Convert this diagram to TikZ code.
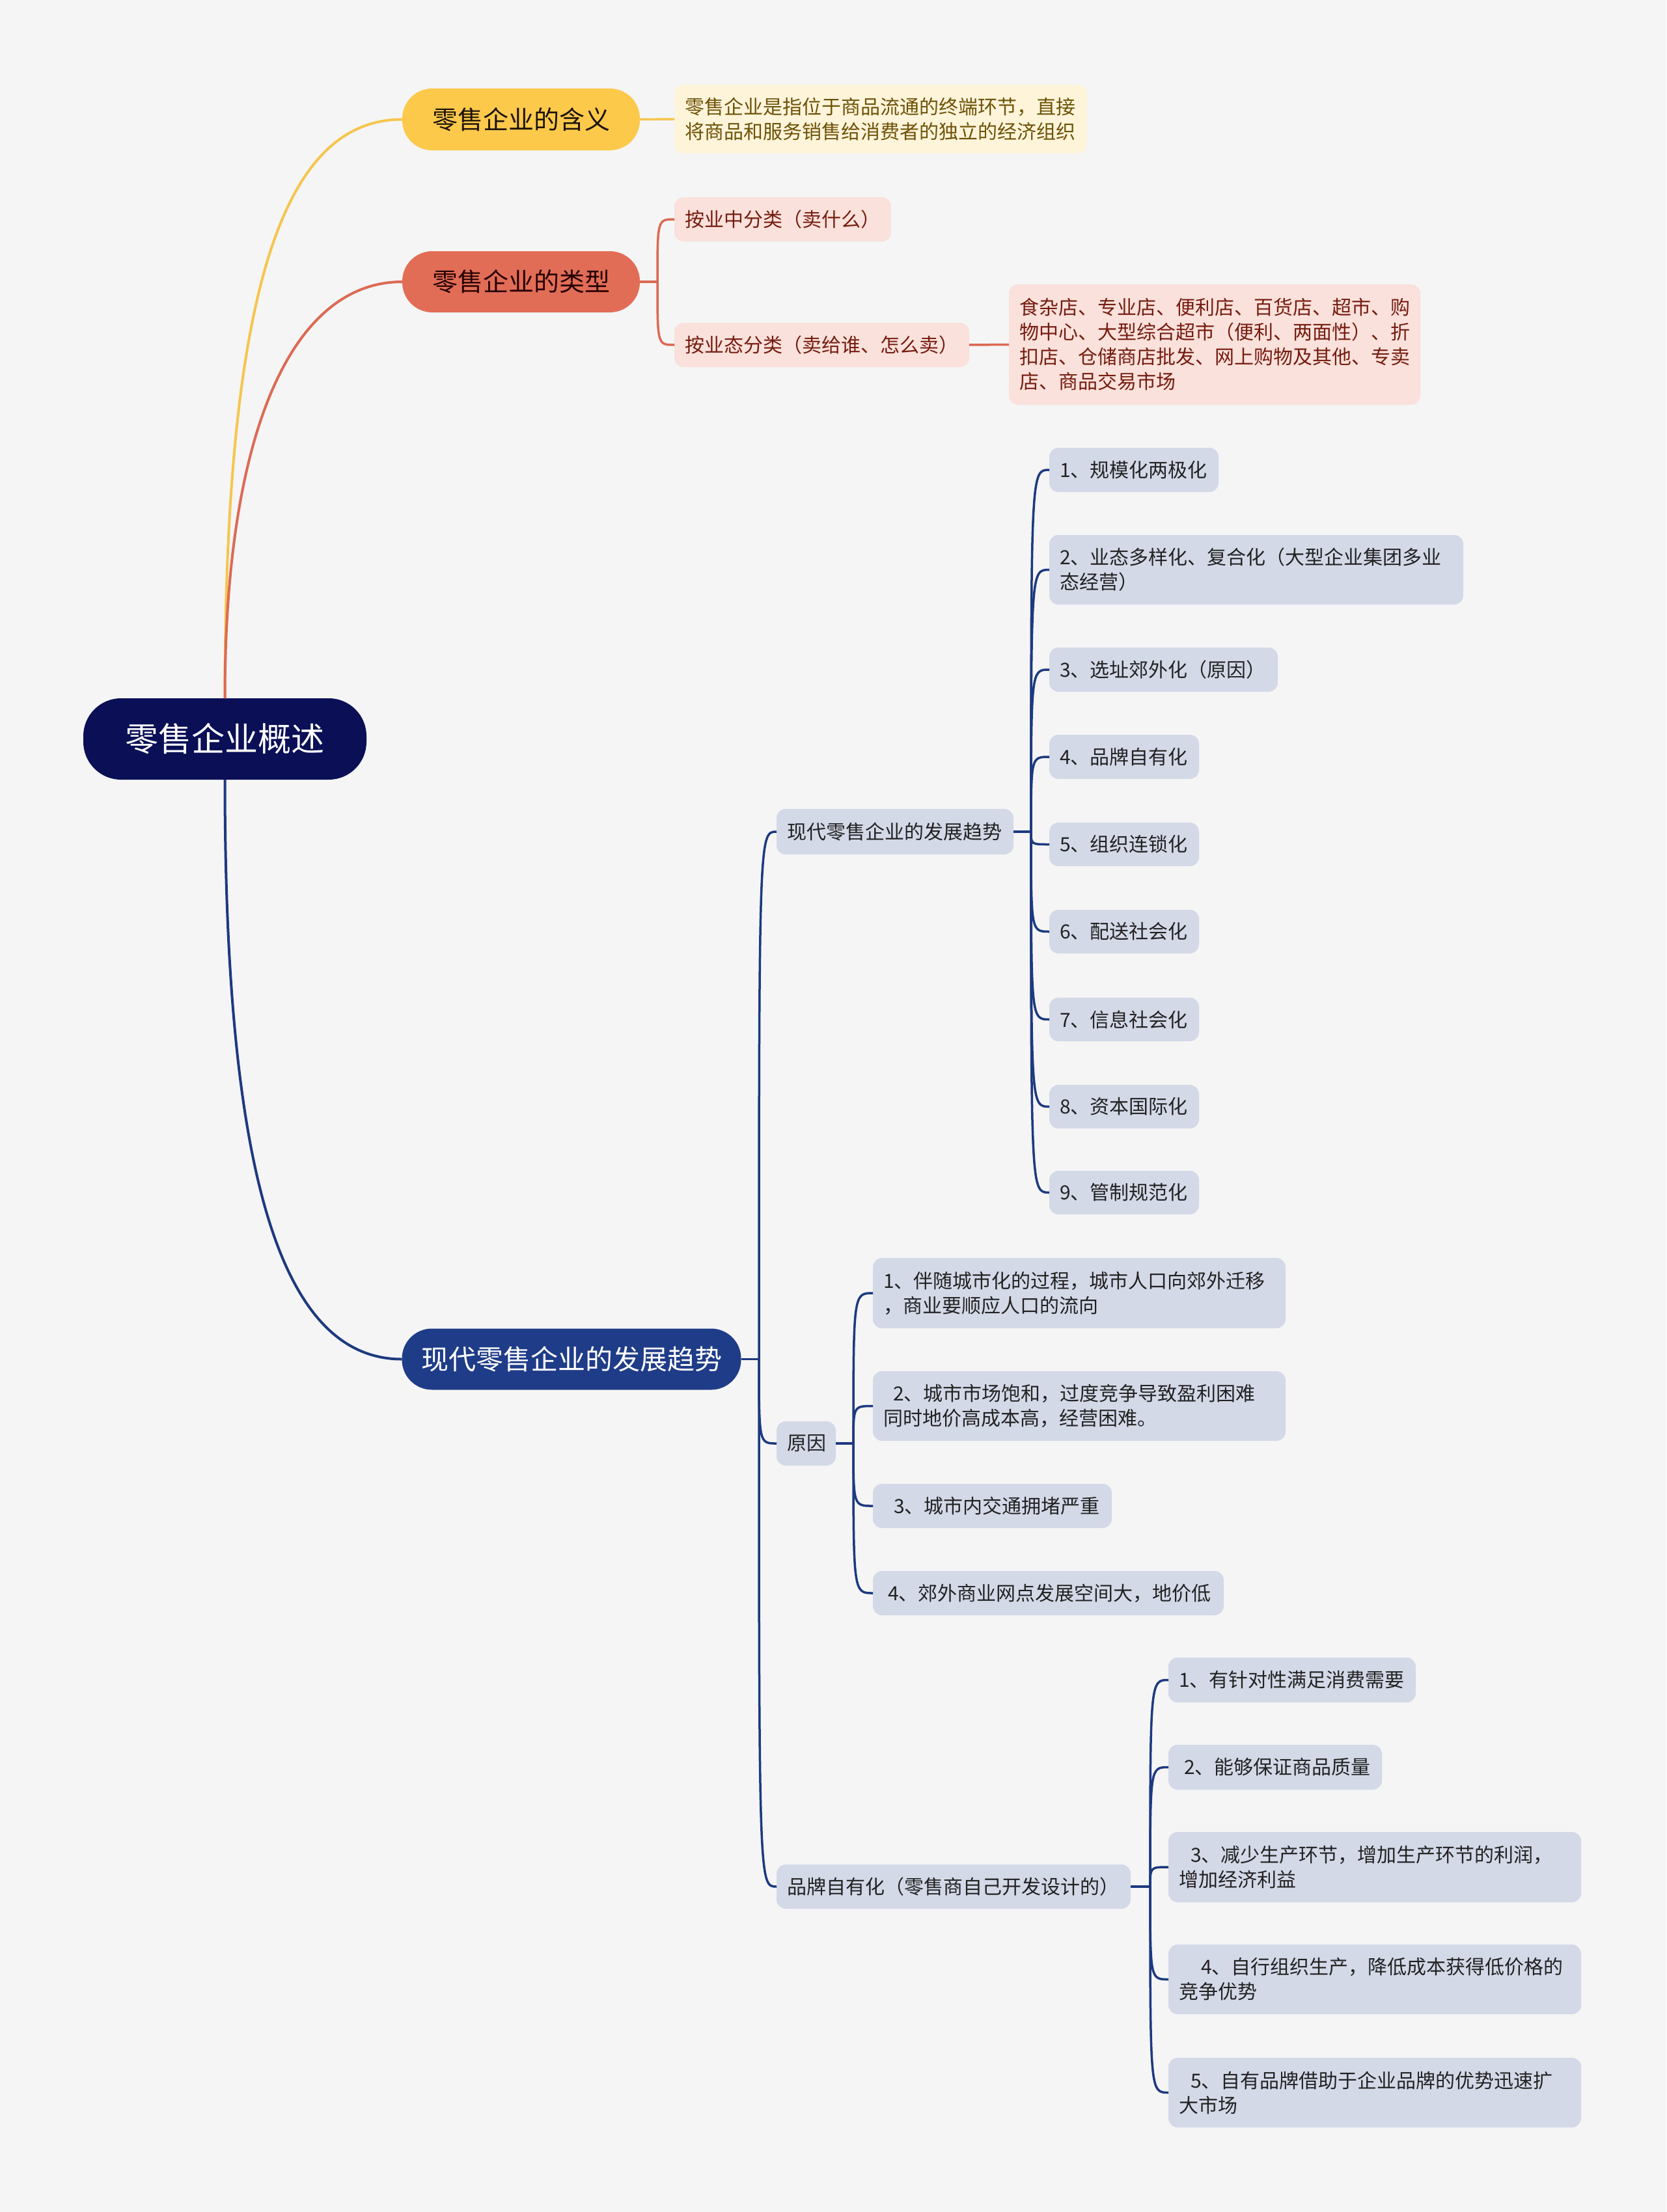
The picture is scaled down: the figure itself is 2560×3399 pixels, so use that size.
\documentclass[tikz,border=0pt]{standalone}
\usepackage{fontspec}
\setmainfont{Noto Sans CJK SC}
\definecolor{cbg}{HTML}{F5F5F5}
\definecolor{croot}{HTML}{0A0F56}
\definecolor{cyel}{HTML}{FCC94B}
\definecolor{cyelline}{HTML}{F5C54E}
\definecolor{cyelleaf}{HTML}{FDF4DA}
\definecolor{cyeltext}{HTML}{6E5206}
\definecolor{cred}{HTML}{E26D57}
\definecolor{credline}{HTML}{DC6A53}
\definecolor{credleaf}{HTML}{FAE1DB}
\definecolor{credtext}{HTML}{761C10}
\definecolor{cblue}{HTML}{1F3C88}
\definecolor{cblueline}{HTML}{1D3A80}
\definecolor{cblueleaf}{HTML}{D4D9E8}
\definecolor{cbluetext}{HTML}{222222}
\newcommand\mmbox[7]{%
  \pgfmathsetmacro\mmtw{#5-#3-32}%
  \pgfmathsetmacro\mmh{#6-#4}%
  \pgfmathsetmacro\mmcy{(#4+#6)/2}%
  \node[#2, anchor=west, text width=\mmtw pt, minimum height=\mmh pt] (#1) at (#3,\mmcy) {#7};}
\begin{document}
\begin{tikzpicture}[x=1pt,y=-1pt,
  leafbase/.style={rounded corners=14pt, inner xsep=16pt, inner ysep=0pt, outer sep=0pt, align=left, font=\fontsize{30}{38}\selectfont},
  leafb/.style={leafbase, fill=cblueleaf, text=cbluetext},
  leafy/.style={leafbase, fill=cyelleaf, text=cyeltext},
  leafr/.style={leafbase, fill=credleaf, text=credtext},
  pill/.style={rounded corners=46pt, inner sep=0pt, outer sep=0pt, align=center},
  yline/.style={draw=cyelline, line width=4pt},
  rline/.style={draw=credline, line width=4pt},
  bline/.style={draw=cblueline, line width=4pt},
  bthin/.style={draw=cblueline, line width=3.5pt},
  rthin/.style={draw=credline, line width=3.5pt},
  ythin/.style={draw=cyelline, line width=3.5pt},
]
\useasboundingbox (0,0) rectangle (2560,3399);
\fill[cbg] (0,0) rectangle (2560,3399);

% root
\node[rounded corners=58pt, fill=croot, text=white, inner sep=0pt, outer sep=0pt,
  minimum width=435pt, minimum height=125pt, font=\fontsize{51}{60}\selectfont] (root) at (345.5,1135.5) {零售企业概述};

% level 1
\node[pill, fill=cyel, text=black!85!brown, minimum width=365pt, minimum height=95pt,
  font=\fontsize{39}{46}\selectfont] (ya) at (800.5,183.5) {零售企业的含义};
\node[pill, fill=cred, text=black!85!red, minimum width=365pt, minimum height=94pt,
  font=\fontsize{39}{46}\selectfont] (ra) at (800.5,433) {零售企业的类型};
\node[pill, fill=cblue, text=white, minimum width=521pt, minimum height=94pt,
  font=\fontsize{42}{50}\selectfont] (ba) at (878,2088.5) {现代零售企业的发展趋势};

% yellow leaf
\mmbox{yl}{leafy}{1036}{130}{1670}{236}{零售企业是指位于商品流通的终端环节，直接\\将商品和服务销售给消费者的独立的经济组织}

% red
\mmbox{r1}{leafr}{1036}{303}{1369}{371}{按业中分类（卖什么）}
\mmbox{r2}{leafr}{1036}{496}{1489}{564}{按业态分类（卖给谁、怎么卖）}
\mmbox{rl}{leafr}{1550}{437}{2182}{622}{食杂店、专业店、便利店、百货店、超市、购\\物中心、大型综合超市（便利、两面性）、折\\扣店、仓储商店批发、网上购物及其他、专卖\\店、商品交易市场}

% blue level 2
\mmbox{b1}{leafb}{1193}{1243}{1557}{1313}{现代零售企业的发展趋势}
\mmbox{b2}{leafb}{1193}{2184}{1284}{2252}{原因}
\mmbox{b3}{leafb}{1193}{2865}{1737}{2933}{品牌自有化（零售商自己开发设计的）}

% trends
\mmbox{t1}{leafb}{1612}{688}{1872}{756}{1、规模化两极化}
\mmbox{t2}{leafb}{1612}{822}{2248}{929}{2、业态多样化、复合化（大型企业集团多业\\态经营）}
\mmbox{t3}{leafb}{1612}{995}{1963}{1063}{3、选址郊外化（原因）}
\mmbox{t4}{leafb}{1612}{1129}{1842}{1197}{4、品牌自有化}
\mmbox{t5}{leafb}{1612}{1264}{1842}{1331}{5、组织连锁化}
\mmbox{t6}{leafb}{1612}{1398}{1842}{1465}{6、配送社会化}
\mmbox{t7}{leafb}{1612}{1533}{1842}{1600}{7、信息社会化}
\mmbox{t8}{leafb}{1612}{1667}{1842}{1734}{8、资本国际化}
\mmbox{t9}{leafb}{1612}{1799}{1842}{1866}{9、管制规范化}

% reasons
\mmbox{c1}{leafb}{1341}{1933}{1975}{2041}{1、伴随城市化的过程，城市人口向郊外迁移\\，商业要顺应人口的流向}
\mmbox{c2}{leafb}{1341}{2107}{1975}{2214}{\hspace*{15pt}2、城市市场饱和，过度竞争导致盈利困难\\同时地价高成本高，经营困难。}
\mmbox{c3}{leafb}{1341}{2280}{1708}{2348}{\hspace*{16pt}3、城市内交通拥堵严重}
\mmbox{c4}{leafb}{1341}{2414}{1880}{2482}{\hspace*{7pt}4、郊外商业网点发展空间大，地价低}

% brand
\mmbox{d1}{leafb}{1795}{2547}{2175}{2616}{1、有针对性满足消费需要}
\mmbox{d2}{leafb}{1795}{2681}{2123}{2750}{\hspace*{8pt}2、能够保证商品质量}
\mmbox{d3}{leafb}{1795}{2815}{2429}{2923}{\hspace*{18pt}3、减少生产环节，增加生产环节的利润，\\增加经济利益}
\mmbox{d4}{leafb}{1795}{2988}{2429}{3095}{\hspace*{34pt}4、自行组织生产，降低成本获得低价格的\\竞争优势}
\mmbox{d5}{leafb}{1795}{3162}{2429}{3269}{\hspace*{18pt}5、自有品牌借助于企业品牌的优势迅速扩\\大市场}

% root connectors
\draw[yline] (root.north) .. controls (345.5,430) and (440,183.5) .. (ya.west);
\draw[rline] (root.north) .. controls (345.5,660) and (450,433) .. (ra.west);
\draw[bline] (root.south) .. controls (345.5,1800) and (430,2088.5) .. (ba.west);

% yellow
\draw[ythin] (ya.east) -- (yl.west);

% red
\coordinate (jr) at (1010,433);
\draw[rthin] (ra.east) -- (jr);
\foreach \c in {r1,r2}
  \draw[rthin] (jr) .. controls (jr |- \c.west) and (jr |- \c.west) .. (\c.west);
\draw[rthin] (r2.east) -- (rl.west);

% blue level 1 -> level 2
\coordinate (jb) at (1166,2088.5);
\draw[bthin] (ba.east) -- (jb);
\foreach \c in {b1,b2,b3}
  \draw[bthin] (jb) .. controls (jb |- \c.west) and (jb |- \c.west) .. (\c.west);

% trends
\coordinate (jt) at (1584,1278);
\draw[bthin] (b1.east) -- (jt);
\foreach \c in {t1,t2,t3,t4,t5,t6,t7,t8,t9}
  \draw[bthin] (jt) .. controls (jt |- \c.west) and (jt |- \c.west) .. (\c.west);

% reasons
\coordinate (jc) at (1311,2218);
\draw[bthin] (b2.east) -- (jc);
\foreach \c in {c1,c2,c3,c4}
  \draw[bthin] (jc) .. controls (jc |- \c.west) and (jc |- \c.west) .. (\c.west);

% brand
\coordinate (jd) at (1767,2899);
\draw[bthin] (b3.east) -- (jd);
\foreach \c in {d1,d2,d3,d4,d5}
  \draw[bthin] (jd) .. controls (jd |- \c.west) and (jd |- \c.west) .. (\c.west);
\end{tikzpicture}
\end{document}
